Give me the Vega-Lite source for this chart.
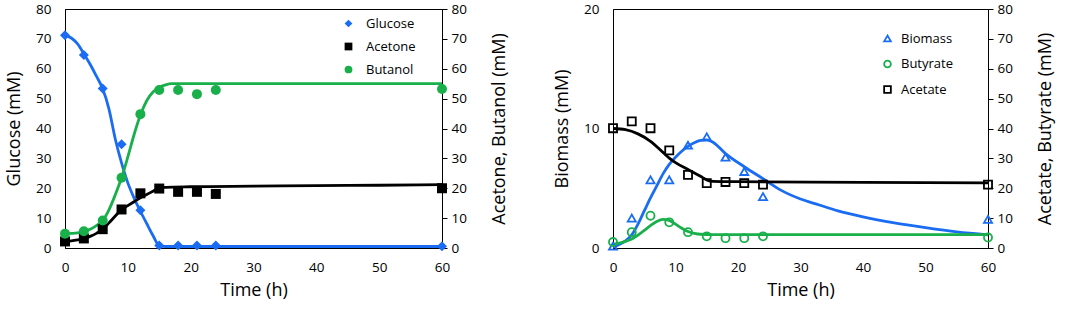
{
  "$schema": "https://vega.github.io/schema/vega-lite/v6.json",
  "padding": {"left": 5, "top": 1, "right": 5, "bottom": 5},
  "spacing": 44,
  "config": {
    "view": {"stroke": "#000", "strokeWidth": 1},
    "axis": {"grid": false, "domainColor": "#000", "tickColor": "#000", "labelColor": "#000", "titleColor": "#000", "labelFont": "Open Sans", "titleFont": "Open Sans", "titleFontWeight": "normal", "labelFontSize": 13.5, "titleFontSize": 18, "labelFlush": false, "labelOverlap": false},
    "legend": {"labelFont": "Open Sans", "labelFontSize": 13, "labelColor": "#000"}
  },
  "datasets": {
    "leftPoints": [
      {"t": 0, "v": 71.2, "s": "Glucose"}, {"t": 3, "v": 64.6, "s": "Glucose"}, {"t": 6, "v": 53.4, "s": "Glucose"}, {"t": 9, "v": 34.7, "s": "Glucose"}, {"t": 12, "v": 12.6, "s": "Glucose"}, {"t": 15, "v": 0.8, "s": "Glucose"}, {"t": 18, "v": 0.8, "s": "Glucose"}, {"t": 21, "v": 0.8, "s": "Glucose"}, {"t": 24, "v": 0.8, "s": "Glucose"}, {"t": 60, "v": 0.6, "s": "Glucose"},
      {"t": 0, "v": 2.2, "s": "Acetone"}, {"t": 3, "v": 3.2, "s": "Acetone"}, {"t": 6, "v": 6.3, "s": "Acetone"}, {"t": 9, "v": 12.9, "s": "Acetone"}, {"t": 12, "v": 18.3, "s": "Acetone"}, {"t": 15, "v": 19.9, "s": "Acetone"}, {"t": 18, "v": 18.8, "s": "Acetone"}, {"t": 21, "v": 18.8, "s": "Acetone"}, {"t": 24, "v": 18.1, "s": "Acetone"}, {"t": 60, "v": 20.0, "s": "Acetone"},
      {"t": 0, "v": 4.8, "s": "Butanol"}, {"t": 3, "v": 5.6, "s": "Butanol"}, {"t": 6, "v": 9.2, "s": "Butanol"}, {"t": 9, "v": 23.5, "s": "Butanol"}, {"t": 12, "v": 44.8, "s": "Butanol"}, {"t": 15, "v": 52.9, "s": "Butanol"}, {"t": 18, "v": 52.9, "s": "Butanol"}, {"t": 21, "v": 51.5, "s": "Butanol"}, {"t": 24, "v": 52.9, "s": "Butanol"}, {"t": 60, "v": 53.2, "s": "Butanol"}
    ],
    "leftCurves": [
      {"t": 0, "v": 71.2, "s": "Glucose"}, {"t": 1, "v": 70.3, "s": "Glucose"}, {"t": 2, "v": 68.3, "s": "Glucose"}, {"t": 3, "v": 65, "s": "Glucose"}, {"t": 4, "v": 61.5, "s": "Glucose"}, {"t": 5, "v": 57.5, "s": "Glucose"}, {"t": 6, "v": 53.3, "s": "Glucose"}, {"t": 7, "v": 46.5, "s": "Glucose"}, {"t": 8, "v": 36.5, "s": "Glucose"}, {"t": 9, "v": 28.5, "s": "Glucose"}, {"t": 10, "v": 21.8, "s": "Glucose"}, {"t": 11, "v": 16.7, "s": "Glucose"}, {"t": 12, "v": 12.3, "s": "Glucose"}, {"t": 13, "v": 8.2, "s": "Glucose"}, {"t": 14, "v": 4.2, "s": "Glucose"}, {"t": 15, "v": 0.8, "s": "Glucose"}, {"t": 16, "v": 0.5, "s": "Glucose"}, {"t": 60, "v": 0.5, "s": "Glucose"},
      {"t": 0, "v": 2.2, "s": "Acetone"}, {"t": 1, "v": 2.4, "s": "Acetone"}, {"t": 2, "v": 2.7, "s": "Acetone"}, {"t": 3, "v": 3.1, "s": "Acetone"}, {"t": 4, "v": 3.9, "s": "Acetone"}, {"t": 5, "v": 4.9, "s": "Acetone"}, {"t": 6, "v": 6.2, "s": "Acetone"}, {"t": 7, "v": 8.4, "s": "Acetone"}, {"t": 8, "v": 10.7, "s": "Acetone"}, {"t": 9, "v": 12.9, "s": "Acetone"}, {"t": 10, "v": 14.2, "s": "Acetone"}, {"t": 11, "v": 15.5, "s": "Acetone"}, {"t": 12, "v": 16.8, "s": "Acetone"}, {"t": 13, "v": 17.9, "s": "Acetone"}, {"t": 14, "v": 19, "s": "Acetone"}, {"t": 15, "v": 20.1, "s": "Acetone"}, {"t": 16, "v": 20.3, "s": "Acetone"}, {"t": 20, "v": 20.5, "s": "Acetone"}, {"t": 30, "v": 20.7, "s": "Acetone"}, {"t": 40, "v": 20.9, "s": "Acetone"}, {"t": 50, "v": 21.0, "s": "Acetone"}, {"t": 60, "v": 21.2, "s": "Acetone"},
      {"t": 0, "v": 4.8, "s": "Butanol"}, {"t": 1, "v": 4.9, "s": "Butanol"}, {"t": 2, "v": 5.1, "s": "Butanol"}, {"t": 3, "v": 5.6, "s": "Butanol"}, {"t": 4, "v": 6.3, "s": "Butanol"}, {"t": 5, "v": 7.5, "s": "Butanol"}, {"t": 6, "v": 9.2, "s": "Butanol"}, {"t": 7, "v": 12.8, "s": "Butanol"}, {"t": 8, "v": 17.8, "s": "Butanol"}, {"t": 9, "v": 23.5, "s": "Butanol"}, {"t": 10, "v": 30.5, "s": "Butanol"}, {"t": 11, "v": 38, "s": "Butanol"}, {"t": 12, "v": 44.5, "s": "Butanol"}, {"t": 13, "v": 49.3, "s": "Butanol"}, {"t": 14, "v": 52.2, "s": "Butanol"}, {"t": 15, "v": 53.8, "s": "Butanol"}, {"t": 16, "v": 54.6, "s": "Butanol"}, {"t": 17, "v": 55, "s": "Butanol"}, {"t": 60, "v": 55, "s": "Butanol"}
    ],
    "rightPoints": [
      {"t": 0, "v": 0.15, "s": "Biomass"}, {"t": 3, "v": 2.5, "s": "Biomass"}, {"t": 6, "v": 5.7, "s": "Biomass"}, {"t": 9, "v": 5.7, "s": "Biomass"}, {"t": 12, "v": 8.6, "s": "Biomass"}, {"t": 15, "v": 9.3, "s": "Biomass"}, {"t": 18, "v": 7.6, "s": "Biomass"}, {"t": 21, "v": 6.4, "s": "Biomass"}, {"t": 24, "v": 4.3, "s": "Biomass"}, {"t": 60, "v": 2.4, "s": "Biomass"},
      {"t": 0, "v": 2.0, "s": "Butyrate"}, {"t": 3, "v": 5.3, "s": "Butyrate"}, {"t": 6, "v": 10.8, "s": "Butyrate"}, {"t": 9, "v": 8.6, "s": "Butyrate"}, {"t": 12, "v": 5.3, "s": "Butyrate"}, {"t": 15, "v": 3.9, "s": "Butyrate"}, {"t": 18, "v": 3.3, "s": "Butyrate"}, {"t": 21, "v": 3.3, "s": "Butyrate"}, {"t": 24, "v": 3.9, "s": "Butyrate"}, {"t": 60, "v": 3.5, "s": "Butyrate"},
      {"t": 0, "v": 40.1, "s": "Acetate"}, {"t": 3, "v": 42.4, "s": "Acetate"}, {"t": 6, "v": 40.1, "s": "Acetate"}, {"t": 9, "v": 32.7, "s": "Acetate"}, {"t": 12, "v": 24.5, "s": "Acetate"}, {"t": 15, "v": 21.7, "s": "Acetate"}, {"t": 18, "v": 22.1, "s": "Acetate"}, {"t": 21, "v": 21.7, "s": "Acetate"}, {"t": 24, "v": 21.2, "s": "Acetate"}, {"t": 60, "v": 21.2, "s": "Acetate"}
    ],
    "rightCurves": [
      {"t": 0, "v": 0.1, "s": "Biomass"}, {"t": 1, "v": 0.3, "s": "Biomass"}, {"t": 2, "v": 0.6, "s": "Biomass"}, {"t": 3, "v": 1.1, "s": "Biomass"}, {"t": 4, "v": 2.0, "s": "Biomass"}, {"t": 5, "v": 3.1, "s": "Biomass"}, {"t": 6, "v": 4.2, "s": "Biomass"}, {"t": 7, "v": 5.2, "s": "Biomass"}, {"t": 8, "v": 6.2, "s": "Biomass"}, {"t": 9, "v": 7.0, "s": "Biomass"}, {"t": 10, "v": 7.6, "s": "Biomass"}, {"t": 11, "v": 8.1, "s": "Biomass"}, {"t": 12, "v": 8.5, "s": "Biomass"}, {"t": 13, "v": 8.8, "s": "Biomass"}, {"t": 14, "v": 9.0, "s": "Biomass"}, {"t": 15, "v": 9.05, "s": "Biomass"}, {"t": 16, "v": 8.85, "s": "Biomass"}, {"t": 18, "v": 7.9, "s": "Biomass"}, {"t": 21, "v": 6.8, "s": "Biomass"}, {"t": 24, "v": 5.8, "s": "Biomass"}, {"t": 27, "v": 4.8, "s": "Biomass"}, {"t": 30, "v": 4.1, "s": "Biomass"}, {"t": 33, "v": 3.6, "s": "Biomass"}, {"t": 36, "v": 3.1, "s": "Biomass"}, {"t": 40, "v": 2.6, "s": "Biomass"}, {"t": 45, "v": 2.1, "s": "Biomass"}, {"t": 50, "v": 1.7, "s": "Biomass"}, {"t": 55, "v": 1.35, "s": "Biomass"}, {"t": 60, "v": 1.1, "s": "Biomass"},
      {"t": 0, "v": 1.3, "s": "Butyrate"}, {"t": 1, "v": 1.6, "s": "Butyrate"}, {"t": 2, "v": 2.2, "s": "Butyrate"}, {"t": 3, "v": 3.0, "s": "Butyrate"}, {"t": 4, "v": 4.3, "s": "Butyrate"}, {"t": 5, "v": 5.9, "s": "Butyrate"}, {"t": 6, "v": 7.5, "s": "Butyrate"}, {"t": 7, "v": 8.9, "s": "Butyrate"}, {"t": 8, "v": 9.6, "s": "Butyrate"}, {"t": 9, "v": 9.2, "s": "Butyrate"}, {"t": 10, "v": 8.0, "s": "Butyrate"}, {"t": 11, "v": 6.6, "s": "Butyrate"}, {"t": 12, "v": 5.5, "s": "Butyrate"}, {"t": 13, "v": 4.9, "s": "Butyrate"}, {"t": 14, "v": 4.6, "s": "Butyrate"}, {"t": 16, "v": 4.5, "s": "Butyrate"}, {"t": 60, "v": 4.5, "s": "Butyrate"},
      {"t": 0, "v": 40, "s": "Acetate"}, {"t": 2, "v": 39.6, "s": "Acetate"}, {"t": 4, "v": 38.2, "s": "Acetate"}, {"t": 6, "v": 35.7, "s": "Acetate"}, {"t": 8, "v": 32, "s": "Acetate"}, {"t": 9, "v": 30.1, "s": "Acetate"}, {"t": 10, "v": 28.6, "s": "Acetate"}, {"t": 12, "v": 26.3, "s": "Acetate"}, {"t": 14, "v": 24, "s": "Acetate"}, {"t": 15, "v": 22.8, "s": "Acetate"}, {"t": 16, "v": 22.3, "s": "Acetate"}, {"t": 20, "v": 22.2, "s": "Acetate"}, {"t": 40, "v": 22, "s": "Acetate"}, {"t": 60, "v": 21.8, "s": "Acetate"}
    ]
  },
  "resolve": {
    "scale": {"x": "independent", "y": "independent", "color": "independent", "shape": "independent", "stroke": "independent", "size": "independent"},
    "legend": {"color": "independent", "shape": "independent"}
  },
  "hconcat": [
    {
      "width": 377,
      "height": 239,
      "resolve": {"scale": {"y": "independent"}},
      "layer": [
        {
          "data": {"name": "leftCurves"},
          "transform": [{"filter": "datum.s === 'Glucose'"}],
          "mark": {"type": "line", "interpolate": "monotone", "strokeWidth": 2.8},
          "encoding": {
            "x": {"field": "t", "type": "quantitative", "scale": {"domain": [0, 60], "nice": false}, "axis": {"values": [0, 10, 20, 30, 40, 50, 60], "title": "Time (h)", "ticks": false, "labelPadding": 12, "titlePadding": 8, "labelOverlap": false}},
            "y": {"field": "v", "type": "quantitative", "scale": {"domain": [0, 80], "nice": false}, "axis": {"orient": "left", "values": [0, 10, 20, 30, 40, 50, 60, 70, 80], "title": "Glucose (mM)", "ticks": false, "labelPadding": 14, "titlePadding": 12, "labelOverlap": false}},
            "stroke": {"field": "s", "type": "nominal", "scale": {"domain": ["Butanol", "Acetone", "Glucose"], "range": ["#19b04b", "#000000", "#1a6cf2"]}, "legend": null}
          }
        },
        {
          "data": {"name": "leftCurves"},
          "transform": [{"filter": "datum.s !== 'Glucose'"}],
          "mark": {"type": "line", "interpolate": "monotone", "strokeWidth": 2.8},
          "encoding": {
            "x": {"field": "t", "type": "quantitative"},
            "y": {"field": "v", "type": "quantitative", "scale": {"domain": [0, 80], "nice": false}, "axis": {"orient": "right", "values": [0, 10, 20, 30, 40, 50, 60, 70, 80], "title": "Acetone, Butanol (mM)", "ticks": true, "tickSize": 5, "labelPadding": 4, "titleAngle": 270, "titleBaseline": "top", "titlePadding": 24, "labelOverlap": false}},
            "stroke": {"field": "s", "type": "nominal", "legend": null}
          }
        },
        {
          "data": {"name": "leftPoints"},
          "mark": {"type": "point", "filled": true, "opacity": 1},
          "encoding": {
            "x": {"field": "t", "type": "quantitative"},
            "y": {"field": "v", "type": "quantitative", "scale": {"domain": [0, 80], "nice": false}, "axis": null},
            "size": {"field": "s", "type": "nominal", "scale": {"domain": ["Acetone", "Butanol", "Glucose"], "range": [100, 100, 180]}, "legend": null},
            "color": {"field": "s", "type": "nominal", "scale": {"domain": ["Glucose", "Acetone", "Butanol"], "range": ["#1a6cf2", "#000000", "#19b04b"]}, "legend": {"title": null, "orient": "none", "legendX": 277, "legendY": 8, "symbolSize": 60, "rowPadding": 9, "labelOffset": 11}},
            "shape": {"field": "s", "type": "nominal", "scale": {"domain": ["Glucose", "Acetone", "Butanol"], "range": ["diamond", "square", "circle"]}, "legend": {"title": null, "orient": "none", "legendX": 277, "legendY": 8, "symbolSize": 60, "rowPadding": 9, "labelOffset": 11}}
          }
        }
      ]
    },
    {
      "width": 375,
      "height": 239,
      "resolve": {"scale": {"y": "independent"}},
      "layer": [
        {
          "data": {"name": "rightCurves"},
          "transform": [{"filter": "datum.s === 'Biomass'"}],
          "mark": {"type": "line", "interpolate": "monotone", "strokeWidth": 2.8},
          "encoding": {
            "x": {"field": "t", "type": "quantitative", "scale": {"domain": [0, 60], "nice": false}, "axis": {"values": [0, 10, 20, 30, 40, 50, 60], "title": "Time (h)", "ticks": false, "labelPadding": 12, "titlePadding": 8, "labelOverlap": false}},
            "y": {"field": "v", "type": "quantitative", "scale": {"domain": [0, 20], "nice": false}, "axis": {"orient": "left", "values": [0, 10, 20], "title": "Biomass (mM)", "ticks": false, "labelPadding": 14, "titlePadding": 12, "labelOverlap": false}},
            "stroke": {"field": "s", "type": "nominal", "scale": {"domain": ["Acetate", "Butyrate", "Biomass"], "range": ["#000000", "#19b04b", "#1a6cf2"]}, "legend": null}
          }
        },
        {
          "data": {"name": "rightCurves"},
          "transform": [{"filter": "datum.s !== 'Biomass'"}],
          "mark": {"type": "line", "interpolate": "monotone", "strokeWidth": 2.8},
          "encoding": {
            "x": {"field": "t", "type": "quantitative"},
            "y": {"field": "v", "type": "quantitative", "scale": {"domain": [0, 80], "nice": false}, "axis": {"orient": "right", "values": [0, 10, 20, 30, 40, 50, 60, 70, 80], "title": "Acetate, Butyrate (mM)", "ticks": true, "tickSize": 5, "labelPadding": 4, "titleAngle": 270, "titleBaseline": "top", "titlePadding": 24, "labelOverlap": false}},
            "stroke": {"field": "s", "type": "nominal", "legend": null}
          }
        },
        {
          "data": {"name": "rightPoints"},
          "transform": [{"filter": "datum.s === 'Biomass'"}],
          "mark": {"type": "point", "filled": false, "size": 65, "strokeWidth": 1.8, "opacity": 1},
          "encoding": {
            "x": {"field": "t", "type": "quantitative"},
            "y": {"field": "v", "type": "quantitative", "scale": {"domain": [0, 20], "nice": false}, "axis": null},
            "color": {"field": "s", "type": "nominal", "scale": {"domain": ["Biomass", "Butyrate", "Acetate"], "range": ["#1a6cf2", "#19b04b", "#000000"]}, "legend": {"title": null, "orient": "none", "legendX": 268, "legendY": 23, "symbolSize": 45, "symbolStrokeWidth": 1.8, "rowPadding": 10.5, "labelOffset": 7}},
            "shape": {"field": "s", "type": "nominal", "scale": {"domain": ["Biomass", "Butyrate", "Acetate"], "range": ["triangle-up", "circle", "square"]}, "legend": {"title": null, "orient": "none", "legendX": 268, "legendY": 23, "symbolSize": 45, "symbolStrokeWidth": 1.8, "rowPadding": 10.5, "labelOffset": 7}}
          }
        },
        {
          "data": {"name": "rightPoints"},
          "transform": [{"filter": "datum.s !== 'Biomass'"}],
          "mark": {"type": "point", "filled": false, "size": 65, "strokeWidth": 1.8, "opacity": 1},
          "encoding": {
            "x": {"field": "t", "type": "quantitative"},
            "y": {"field": "v", "type": "quantitative", "scale": {"domain": [0, 80], "nice": false}, "axis": null},
            "color": {"field": "s", "type": "nominal"},
            "shape": {"field": "s", "type": "nominal"}
          }
        }
      ]
    }
  ]
}
